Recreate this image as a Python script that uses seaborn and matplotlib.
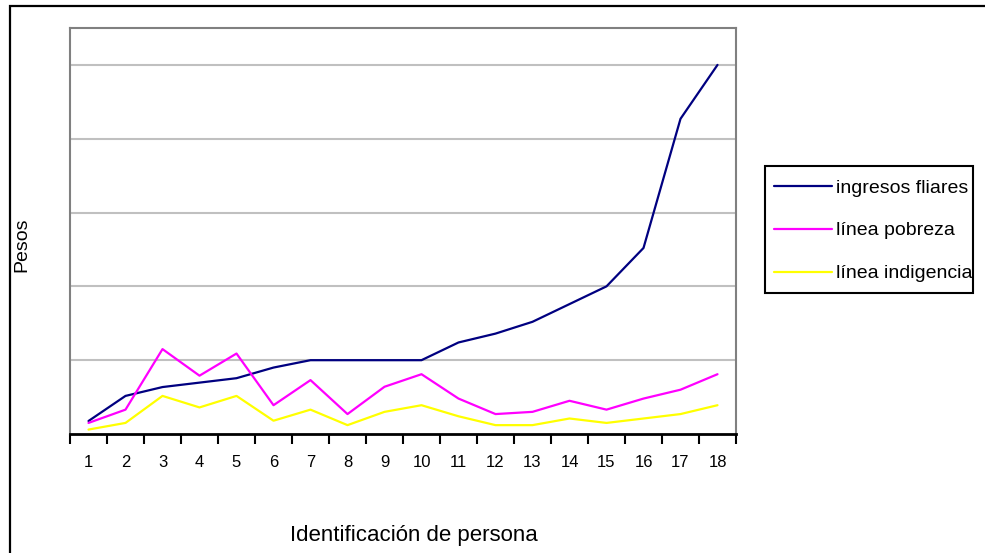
"""Ingresos familiares vs. líneas de pobreza e indigencia."""

import matplotlib

matplotlib.use("Agg")
import matplotlib.pyplot as plt
import numpy as np
import pandas as pd
import seaborn as sns
from matplotlib.patches import Rectangle

personas = list(range(1, 19))
ingresos_fliares = [88, 258, 318, 348, 378, 450, 500, 500, 500, 500,
                    620, 680, 760, 880, 1000, 1260, 2135, 2500]
linea_pobreza = [75, 165, 575, 395, 545, 195, 365, 135, 320, 405,
                 240, 135, 150, 225, 165, 240, 300, 405]
linea_indigencia = [30, 75, 258, 180, 258, 90, 165, 60, 150, 195,
                    120, 60, 60, 105, 75, 105, 135, 195]
series = ["ingresos fliares", "línea pobreza", "línea indigencia"]
colores = ["#000080", "#ff00ff", "#ffff00"]

df = pd.DataFrame({
    "persona": personas * 3,
    "pesos": ingresos_fliares + linea_pobreza + linea_indigencia,
    "serie": np.repeat(series, len(personas)),
})

sns.set_theme(style="white")
plt.rcParams["font.family"] = ["Liberation Sans", "DejaVu Sans"]
plt.rcParams["text.color"] = "black"
plt.rcParams["axes.labelcolor"] = "black"
plt.rcParams["xtick.color"] = "black"

W, H = 985, 553
fig = plt.figure(figsize=(W / 100, H / 100), dpi=100)
ax = fig.add_axes([70 / W, 1 - 434 / H, (736 - 70) / W, (434 - 28) / H])

sns.lineplot(data=df, x="persona", y="pesos", hue="serie", hue_order=series,
             palette=colores, linewidth=1.6, ax=ax, legend=True)

ax.set_xlim(0.5, 18.5)
ax.set_ylim(0, 2750)
ax.set_yticks([500, 1000, 1500, 2000, 2500])
ax.set_yticklabels([])
ax.tick_params(axis="y", length=0)
ax.yaxis.grid(True, color="#c0c0c0", linewidth=1.5)
ax.xaxis.grid(False)

ax.set_xticks(personas)
ax.set_xticklabels([str(p) for p in personas], fontsize=12)
ax.set_xticks(np.arange(0.5, 19, 1), minor=True)
ax.tick_params(axis="x", which="major", length=0, pad=15, colors="black")
ax.tick_params(axis="x", which="minor", length=7, width=1.5, color="black",
               direction="out", bottom=True)

for side in ["left", "top", "right"]:
    ax.spines[side].set_color("#808080")
    ax.spines[side].set_linewidth(1.5)
ax.spines["bottom"].set_color("black")
ax.spines["bottom"].set_linewidth(2)

ax.set_xlabel("Identificación de persona", fontsize=16)
ax.set_ylabel("Pesos", fontsize=14)
ax.xaxis.set_label_coords((414 - 70) / 666, (434 - 525) / 406)
ax.yaxis.set_label_coords((30 - 70) / 666, (434 - 245) / 406)

handles, labels = ax.get_legend_handles_labels()
ax.legend(handles, labels, loc="upper left",
          bbox_to_anchor=(765 / W, 1 - 170 / H), bbox_transform=fig.transFigure,
          prop={"size": 14}, frameon=False,
          handlelength=3.0, handletextpad=0.2, labelspacing=1.3,
          borderpad=0.46, borderaxespad=0)

# recuadro de la leyenda (ajustado al texto como en el original)
fig.patches.append(Rectangle((765 / W, 1 - 293 / H), (973 - 765) / W,
                             (293 - 166) / H, transform=fig.transFigure,
                             fill=False, edgecolor="black", linewidth=1.5))

# marco exterior del gráfico
fig.patches.append(Rectangle((9.5 / W, -0.1), 1.2, 1 - 5.5 / H + 0.1,
                             transform=fig.transFigure, fill=False,
                             edgecolor="black", linewidth=1.6))

fig.savefig("out.png", dpi=100)
